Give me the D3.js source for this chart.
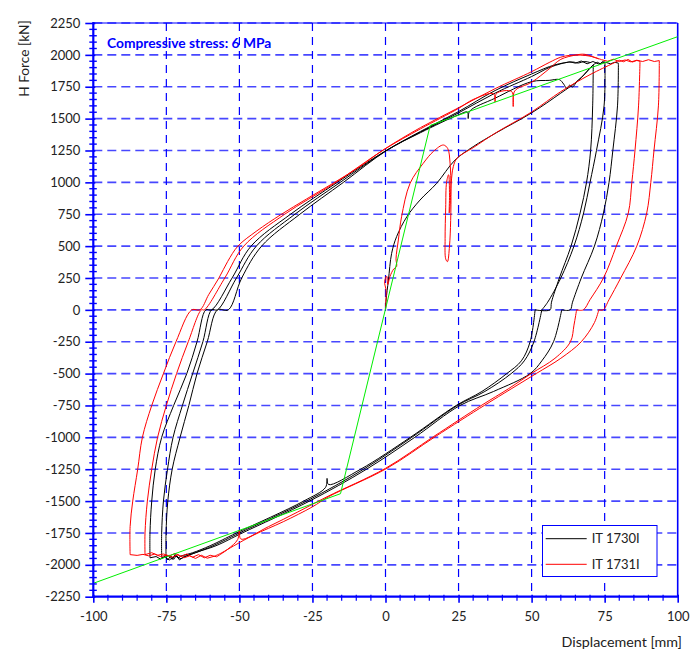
<!DOCTYPE html>
<html>
<head>
<meta charset="utf-8">
<script src="https://cdn.jsdelivr.net/npm/d3@7"></script>
<style>
  html, body { margin: 0; padding: 0; background: #fff; }
  svg { display: block; font-family: Lato, "Open Sans", sans-serif; }
</style>
</head>
<body>
<svg id="chart" width="690" height="657"></svg>
<script>
// ---------------- data ----------------
const xTicks = [-100, -75, -50, -25, 0, 25, 50, 75, 100];
const yTicks = [-2250, -2000, -1750, -1500, -1250, -1000, -750, -500, -250, 0, 250, 500, 750, 1000, 1250, 1500, 1750, 2000, 2250];
const seriesNames = ["IT 1730I", "IT 1731I"];
const chartTitle = "Compressive stress: 6 MPa";

// bilinear reference line (green)
const greenLine = [[-100, -2145], [-15.4, -1442], [15.3, 1447], [100, 2143]];

// ---- IT 1730I (black) ----
const blackLoad = [[0,0],[0.2,77],[1,234],[2.1,443],[3.8,574],[7.3,730],[11.8,861],[17.5,992],[23.8,1175],[30,1280],[38,1390],[50,1545],[60,1700],[66,1800],[70,1895],[71.1,1922]];
const blackDownA = [[71.1,1922],[70.9,1600],[70.2,1250],[68.8,1000],[66.6,760],[63.5,500],[59.5,250],[56.8,60],[56.3,0],[51.2,0]];
const blackLowA = [[51.2,0],[49.5,-250],[46.5,-400],[41.5,-500],[33,-640],[24.2,-750],[8.5,-1000],[-8.5,-1250],[-19.5,-1370],[-20,-1322],[-20.5,-1392],[-28,-1500],[-51,-1750],[-60,-1850],[-66,-1905],[-70,-1930]];
const blackBotA = [[-70,-1930],[-71,-1948],[-72,-1918],[-73,-1958],[-74,-1925],[-75.1,-1940]];
const blackUpJ = [[-75.1,-1940],[-75.1,-1750],[-74.5,-1500],[-73,-1250],[-70.3,-1000],[-67.3,-750],[-64.5,-500],[-61,-250],[-57.5,0],[-53.8,0],[-49.2,250],[-42.4,500],[-29.3,750],[-14.4,1000],[0.4,1250],[12,1390],[25,1530],[28,1552],[28.3,1500],[28.8,1558],[37.5,1660],[50,1790],[56,1800],[59.5,1806],[61,1770],[62,1738],[63,1762],[64,1748],[65.5,1792],[67,1822],[69,1872],[71,1920],[72.5,1942]];
const blackTopB = [[72.5,1942],[73.5,1930],[74.3,1948],[75.1,1940]];
const blackDownB = [[75.1,1940],[74.8,1600],[72.2,1250],[70,1000],[67.8,760],[64.5,500],[60,250],[55.5,60],[53.5,0]];
const blackLowB = [[53.5,0],[50.8,-250],[47.5,-400],[43,-500],[34,-640],[24.6,-750],[9,-1000],[-7.5,-1250],[-27,-1500],[-50,-1750],[-59,-1850],[-65,-1905],[-69,-1935]];
const blackBotB = [[-69,-1935],[-70.5,-1962],[-71.5,-1925],[-72.5,-1957],[-73.5,-1930],[-74.5,-1962],[-75.5,-1935],[-76.6,-1945]];
const blackUpI = [[-76.6,-1945],[-76.6,-1750],[-76,-1500],[-74.6,-1250],[-72.7,-1000],[-69.5,-750],[-66,-500],[-62.5,-250],[-59.5,0],[-57.5,0],[-51,250],[-44.2,500],[-31,750],[-15.5,1000],[0,1245],[12,1395],[25,1545],[37.5,1700],[50,1830],[56,1900],[60,1930],[63,1946]];
const blackTopC = [[63,1946],[65,1935],[67,1952],[69,1930],[71,1948],[73,1928],[75,1944],[77,1930],[78.5,1942],[79.7,1935]];
const blackDownC = [[79.7,1935],[79.4,1600],[77.8,1250],[76.5,1000],[74.6,760],[71.5,500],[67,250],[64,60],[63.2,0],[60.3,0]];
const blackLowC = [[60.3,0],[57.5,-250],[53.5,-400],[49.5,-500],[37,-640],[25.5,-750],[10,-1000],[-6.5,-1250],[-26,-1500],[-49,-1750],[-58,-1850],[-64.5,-1900],[-68,-1930]];
const blackBotC = [[-68,-1930],[-70,-1952],[-72,-1930],[-74,-1962],[-75.5,-1938],[-77,-1955],[-78.5,-1935],[-80.6,-1945]];
const blackUpH = [[-80.6,-1945],[-80.6,-1750],[-80,-1500],[-78.8,-1250],[-76.6,-1000],[-72.5,-750],[-68,-500],[-64.5,-250],[-61.5,0],[-59.5,0],[-52.5,250],[-46,500],[-32.5,750],[-16.5,1000],[-0.5,1240],[12,1400],[25,1555],[37.5,1720],[50,1850],[58,1922],[64,1944],[66,1936],[68,1948],[70,1940]];

// ---- IT 1731I (red) ----
const redLoad = [[0,0],[0.2,150],[-0.3,220],[0.4,265],[0.8,200],[1.5,260],[2.8,320],[3.8,340],[3.6,400],[4.4,548],[5.5,730],[8.4,992],[12.9,1149],[16.5,1245],[19.8,1293],[21.3,1265],[22.1,1150],[22.4,950],[22.3,700],[21.9,500],[21.2,378],[20.6,400],[20.4,560],[20.6,800],[20.9,1000],[21.6,1060],[21.9,900],[21.8,760],[22.1,820],[22.5,1000],[23.2,1123],[24.5,1190],[30,1272],[38,1392],[50,1552],[60,1712],[70,1845],[78,1935],[80,1958]];
const redTopD = [[80,1958],[81.5,1946],[83,1964],[84.5,1944],[86,1956],[87.1,1950]];
const redDownD = [[87.1,1950],[86.6,1600],[85.4,1254],[84.3,1000],[83.1,760],[79,500],[74.6,250],[70,80],[67.7,0],[65.4,0]];
const redLowD = [[65.4,0],[64.5,-120],[63.3,-250],[58,-380],[50,-498],[42,-620],[33,-747],[16.4,-995],[0,-1243],[-20,-1466],[-30,-1585],[-40,-1700],[-49.5,-1798],[-50,-1728],[-50.6,-1802],[-54,-1878],[-57.8,-1937]];
const redBotD = [[-57.8,-1937],[-60,-1925],[-62,-1945],[-64,-1920],[-66,-1940],[-68,-1915],[-70,-1935],[-72,-1910],[-74,-1930],[-76,-1915],[-78,-1925],[-80,-1905],[-82.3,-1920]];
const redUpG = [[-82.3,-1920],[-82.3,-1750],[-81.5,-1500],[-80,-1250],[-78,-1000],[-75,-750],[-71.5,-500],[-67.5,-250],[-63,0],[-62,0],[-55,250],[-48.5,500],[-34.5,750],[-17.5,992],[-0.3,1260],[12,1420],[25,1580],[30,1650],[37,1695],[37.5,1630],[38,1698],[43.2,1712],[43.7,1595],[44.2,1716],[50,1785],[56,1890],[60,1965],[65,1998],[68,2005],[71,1985],[74,1962]];
const redTopE = [[74,1962],[76,1950],[78,1966],[80,1948],[82,1960],[84,1945],[86,1958],[88,1948],[90,1962],[92,1948],[93.7,1955]];
const redDownE = [[93.7,1955],[93.4,1600],[91.9,1254],[90.8,1000],[89.4,760],[86,500],[80.5,250],[76.5,80],[74.5,0],[73,0]];
const redLowE = [[73,0],[71.5,-100],[67,-250],[60,-380],[51.7,-498],[43,-620],[34,-747],[17,-995],[0.5,-1243],[-19.5,-1466],[-25,-1545],[-35,-1662],[-45,-1765],[-52,-1852],[-56,-1905],[-58.5,-1932]];
const redBotE = [[-58.5,-1932],[-61,-1948],[-63,-1925],[-65,-1950],[-67,-1930],[-69,-1945],[-71,-1920],[-73,-1940],[-75,-1925],[-77,-1935],[-79,-1915],[-81,-1930],[-83,-1918],[-85,-1926],[-87.4,-1920]];
const redUpF = [[-87.4,-1920],[-87.4,-1700],[-86.5,-1500],[-84.8,-1250],[-83.2,-1000],[-80,-750],[-76,-500],[-71.7,-250],[-66.3,0],[-63.5,0],[-60.5,120],[-57,250],[-54,380],[-50.5,500],[-44,620],[-36,744],[-27,870],[-18,992],[-9,1120],[-0.8,1254],[12,1430],[25,1585],[37.5,1735],[50,1868],[56,1940],[60,1982],[63,1996],[66.6,1998],[70,1990],[73,1968]];

// segment lists; "jitter" segments (noisy plateaus) are drawn straight, the rest smoothed
const blackSeries = [blackLoad, blackDownA, blackLowA, blackBotA, blackUpJ, blackTopB, blackDownB, blackLowB, blackBotB, blackUpI, blackTopC, blackDownC, blackLowC, blackBotC, blackUpH];
const redSeries = [redLoad, redTopD, redDownD, redLowD, redBotD, redUpG, redTopE, redDownE, redLowE, redBotE, redUpF];
const jitterSegs = new Set([blackBotA, blackTopB, blackBotB, blackTopC, blackBotC, redTopD, redBotD, redTopE, redBotE]);

// ---------------- drawing ----------------
const W = 690, H = 657;
const margin = { left: 93.3, right: 12.3, top: 23, bottom: 60.3 };
const x = d3.scaleLinear().domain([-100, 100]).range([margin.left, W - margin.right]);
const y = d3.scaleLinear().domain([-2250, 2250]).range([H - margin.bottom, margin.top]);
const blue = "#0000ff";
const svg = d3.select("#chart");
const fmt = d => String(d);

svg.append("defs").append("clipPath").attr("id", "plotclip")
  .append("rect").attr("x", x(-100)).attr("y", y(2250))
  .attr("width", x(100) - x(-100)).attr("height", y(-2250) - y(2250));

// grid
const grid = svg.append("g");
grid.selectAll(".hg").data(yTicks.filter(v => v > -2250)).join("line")
  .attr("x1", x(-100)).attr("x2", x(100))
  .attr("y1", d => y(d)).attr("y2", d => y(d))
  .attr("stroke", "#4747ff").attr("stroke-width", 1.6).attr("stroke-dasharray", "9,5");
grid.selectAll(".vg").data(xTicks.filter(v => v > -100 && v < 100)).join("line")
  .attr("x1", d => x(d)).attr("x2", d => x(d))
  .attr("y1", y(2250)).attr("y2", y(-2250))
  .attr("stroke", blue).attr("stroke-width", 1.2).attr("stroke-dasharray", "8,6");
// frame top & right
svg.append("line").attr("x1", x(-100)).attr("x2", x(100)).attr("y1", y(2250)).attr("y2", y(2250))
  .attr("stroke", blue).attr("stroke-width", 1);
svg.append("line").attr("x1", x(100)).attr("x2", x(100)).attr("y1", y(2250)).attr("y2", y(-2250))
  .attr("stroke", blue).attr("stroke-width", 1.6);

// data lines
const smoothLine = d3.line().x(d => x(d[0])).y(d => y(d[1])).curve(d3.curveCatmullRom.alpha(0.5));
const straightLine = d3.line().x(d => x(d[0])).y(d => y(d[1]));
const plot = svg.append("g").attr("clip-path", "url(#plotclip)");
function drawSeries(segs, color) {
  segs.forEach(s => {
    plot.append("path").datum(s).attr("d", jitterSegs.has(s) ? straightLine : smoothLine)
      .attr("fill", "none").attr("stroke", color).attr("stroke-width", 1)
      .attr("stroke-linejoin", "round");
  });
}
drawSeries(blackSeries, "#000000");
drawSeries(redSeries, "#ff0000");
plot.append("path").datum(greenLine).attr("d", straightLine)
  .attr("fill", "none").attr("stroke", "#00ee00").attr("stroke-width", 1);

// axes
const tickFont = 13;
const yAxis = svg.append("g").attr("transform", `translate(${x(-100)},0)`)
  .call(d3.axisLeft(y).tickValues(yTicks).tickSize(8).tickPadding(5).tickFormat(fmt));
yAxis.select(".domain").remove();
yAxis.selectAll(".tick line").attr("stroke", blue).attr("stroke-width", 1.6).attr("x2", 2).attr("x1", -8);
yAxis.selectAll(".tick text").attr("font-size", tickFont).attr("fill", "#222").attr("font-family", "Lato, sans-serif");
svg.append("line").attr("x1", x(-100)).attr("x2", x(-100)).attr("y1", y(2250) - 1).attr("y2", y(-2250) + 1)
  .attr("stroke", blue).attr("stroke-width", 2.2);
// y minor ticks
const yMinor = d3.range(-2250, 2251, 50).filter(v => v % 250 !== 0);
svg.append("g").selectAll("line").data(yMinor).join("line")
  .attr("x1", x(-100) - 4).attr("x2", x(-100) + 3.5)
  .attr("y1", d => y(d)).attr("y2", d => y(d))
  .attr("stroke", blue).attr("stroke-width", 1.4);

const xAxis = svg.append("g").attr("transform", `translate(0,${y(-2250)})`)
  .call(d3.axisBottom(x).tickValues(xTicks).tickSize(6).tickPadding(9).tickFormat(fmt));
xAxis.select(".domain").remove();
xAxis.selectAll(".tick line").attr("stroke", blue).attr("stroke-width", 1.6).attr("y1", -2);
xAxis.selectAll(".tick text").attr("font-size", tickFont).attr("fill", "#222").attr("font-family", "Lato, sans-serif");
svg.append("line").attr("x1", x(-100) - 1).attr("x2", x(100) + 1).attr("y1", y(-2250)).attr("y2", y(-2250))
  .attr("stroke", blue).attr("stroke-width", 2.2);
const xMinor = d3.range(-100, 101, 5).filter(v => v % 25 !== 0);
svg.append("g").selectAll("line").data(xMinor).join("line")
  .attr("x1", d => x(d)).attr("x2", d => x(d))
  .attr("y1", y(-2250) - 2).attr("y2", y(-2250) + 4)
  .attr("stroke", blue).attr("stroke-width", 1.2);

// axis titles
svg.append("text").attr("transform", `translate(29,58.5) rotate(-90)`)
  .attr("text-anchor", "middle").attr("font-size", 13.7).attr("fill", "#222").text("H Force [kN]");
svg.append("text").attr("x", 682).attr("y", 647).attr("text-anchor", "end")
  .attr("font-size", 14.3).attr("fill", "#222").text("Displacement [mm]");

// chart title inside plot
svg.append("text").attr("x", 107).attr("y", 47.5).attr("font-size", 13.8).attr("font-weight", "bold")
  .attr("fill", blue).text(chartTitle);

// legend
const lg = svg.append("g");
lg.append("rect").attr("x", 542.5).attr("y", 525.5).attr("width", 114.5).attr("height", 51)
  .attr("fill", "#fff").attr("stroke", blue).attr("stroke-width", 1);
const legendColors = ["#000000", "#ff0000"];
seriesNames.forEach((name, i) => {
  const ly = 538.7 + i * 25.6;
  lg.append("line").attr("x1", 545.7).attr("x2", 586.7).attr("y1", ly).attr("y2", ly)
    .attr("stroke", legendColors[i]).attr("stroke-width", 1);
  lg.append("text").attr("x", 591.7).attr("y", ly + 4.6).attr("font-size", 13).attr("fill", "#222").text(name);
});
</script>
</body>
</html>
